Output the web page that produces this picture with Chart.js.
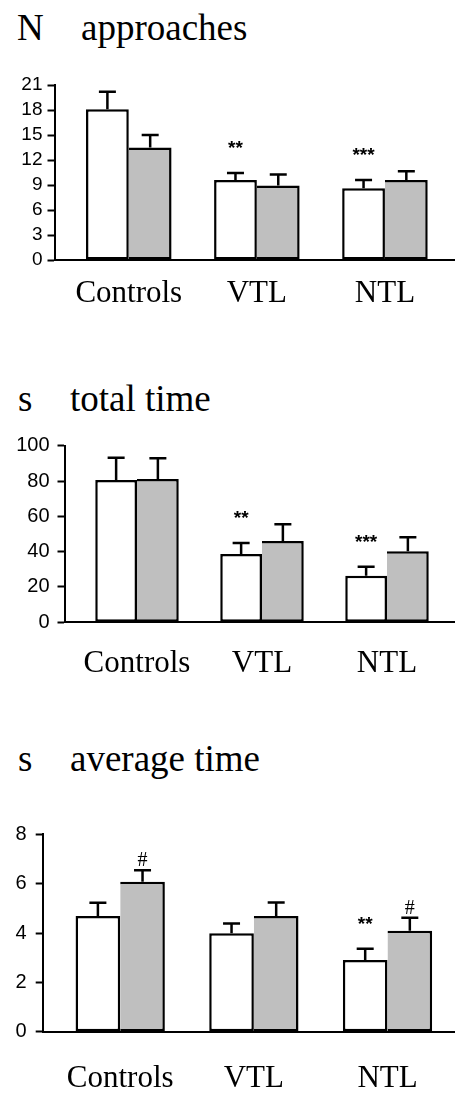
<!DOCTYPE html>
<html>
<head>
<meta charset="utf-8">
<title>approaches / total time / average time</title>
<script src="https://cdn.jsdelivr.net/npm/chart.js@4.4.0/dist/chart.umd.min.js"></script>
<style>
  html, body { margin: 0; padding: 0; background: #fff; }
  body { position: relative; width: 455px; height: 1093px; overflow: hidden; }
  canvas { position: absolute; left: 0; }
  .ttl { position: absolute; font-family: "Liberation Serif", "Times New Roman", serif; font-size: 37px; line-height: 36px; color: #000; white-space: pre; }
</style>
</head>
<body>
<div class="ttl" style="left:17px; top:10px;">N</div>
<div class="ttl" style="left:81px; top:10px;">approaches</div>
<div class="ttl" style="left:18px; top:381px;">s</div>
<div class="ttl" style="left:70px; top:381px;">total time</div>
<div class="ttl" style="left:18px; top:741px;">s</div>
<div class="ttl" style="left:70px; top:741px;">average time</div>

<canvas id="chartApproaches" width="455" height="270" style="top:60px"></canvas>
<canvas id="chartTotal" width="455" height="280" style="top:420px"></canvas>
<canvas id="chartAverage" width="455" height="293" style="top:800px"></canvas>

<script>
// categories (groups)
const categories = ['Controls', 'VTL', 'NTL'];

// N approaches
const approachesWhite = [18.1, 9.6, 8.6];
const approachesWhiteErr = [2.1, 0.85, 1.0];
const approachesGray = [13.5, 8.95, 9.6];
const approachesGrayErr = [1.5, 1.3, 1.05];
const approachesWhiteMarks = ['', '**', '***'];
const approachesGrayMarks = ['', '', ''];
const approachesTicks = [0, 3, 6, 9, 12, 15, 18, 21];

// s total time
const totalWhite = [80.6, 38.7, 26.4];
const totalWhiteErr = [12.6, 6.2, 5.1];
const totalGray = [81.1, 46.0, 40.2];
const totalGrayErr = [11.8, 9.5, 7.9];
const totalWhiteMarks = ['', '**', '***'];
const totalGrayMarks = ['', '', ''];
const totalTicks = [0, 20, 40, 60, 80, 100];

// s average time
const averageWhite = [4.69, 3.99, 2.91];
const averageWhiteErr = [0.54, 0.39, 0.45];
const averageGray = [6.08, 4.69, 4.09];
const averageGrayErr = [0.46, 0.55, 0.53];
const averageWhiteMarks = ['', '', '**'];
const averageGrayMarks = ['#', '', '#'];
const averageTicks = [0, 2, 4, 6, 8];

const SANS = '"Liberation Sans", Arial, Helvetica, sans-serif';
const SERIF = '"Liberation Serif", "Times New Roman", serif';

// error bars (up only) + significance marks
const errorBarPlugin = {
    id: 'errorBars',
    afterDatasetsDraw(chart) {
        const ctx = chart.ctx;
        const yScale = chart.scales.y;
        chart.data.datasets.forEach((ds, di) => {
            const meta = chart.getDatasetMeta(di);
            meta.data.forEach((bar, i) => {
                const top = yScale.getPixelForValue(ds.data[i].y + ds.errors[i]);
                ctx.save();
                ctx.strokeStyle = '#000';
                ctx.lineWidth = 2.5;
                ctx.beginPath();
                ctx.moveTo(bar.x, bar.y);
                ctx.lineTo(bar.x, top);
                ctx.moveTo(bar.x - 8.5, top);
                ctx.lineTo(bar.x + 8.5, top);
                ctx.stroke();

                const mark = ds.marks[i];
                if (mark) {
                    ctx.fillStyle = '#000';
                    ctx.textAlign = 'center';
                    ctx.textBaseline = 'alphabetic';
                    if (mark.indexOf('#') >= 0) {
                        ctx.font = '20px ' + SERIF;
                        ctx.fillText(mark, bar.x, top - 4);
                    } else {
                        ctx.font = 'bold 19px ' + SANS;
                        ctx.fillText(mark, bar.x, top - 19);
                    }
                }
                ctx.restore();
            });
        });
    }
};

function makePanel(id, p) {
    const toPoints = arr => arr.map((v, i) => ({ x: i, y: v }));
    return new Chart(document.getElementById(id), {
        type: 'bar',
        data: {
            datasets: [{
                data: toPoints(p.white),
                errors: p.whiteErr,
                marks: p.whiteMarks,
                backgroundColor: '#ffffff',
                borderColor: '#000000',
                borderWidth: 2.5,
                borderSkipped: false
            }, {
                data: toPoints(p.gray),
                errors: p.grayErr,
                marks: p.grayMarks,
                backgroundColor: '#bfbfbf',
                borderColor: '#000000',
                borderWidth: { top: 2.5, right: 2.5, bottom: 2.5, left: 0 },
                borderSkipped: false
            }]
        },
        options: {
            responsive: false,
            animation: false,
            events: [],
            barPercentage: 1,
            categoryPercentage: 0.668,
            layout: { padding: { top: p.padTop, left: 0, right: 0, bottom: 0 } },
            plugins: {
                legend: { display: false },
                tooltip: { enabled: false }
            },
            scales: {
                x: {
                    type: 'linear',
                    offset: false,
                    bounds: 'data',
                    min: -0.58,
                    max: p.xMax,
                    afterBuildTicks: scale => { scale.ticks = categories.map((c, i) => ({ value: i })); },
                    afterFit: scale => { scale.height = p.xHeight; },
                    grid: { display: false, drawTicks: false, offset: false },
                    border: { display: true, color: '#000', width: 2 },
                    ticks: {
                        autoSkip: false,
                        maxRotation: 0,
                        padding: p.xPad,
                        color: '#000',
                        font: { family: SERIF, size: 31 },
                        callback: v => categories[v]
                    }
                },
                y: {
                    min: p.ticks[0],
                    max: p.ticks[p.ticks.length - 1],
                    afterBuildTicks: scale => { scale.ticks = p.ticks.map(v => ({ value: v })); },
                    afterFit: scale => { scale.width = p.yWidth; },
                    grid: {
                        display: true,
                        drawOnChartArea: false,
                        drawTicks: true,
                        tickLength: 7,
                        tickWidth: 2,
                        tickColor: '#000'
                    },
                    border: { display: true, color: '#000', width: 2 },
                    ticks: {
                        autoSkip: false,
                        padding: p.yPad,
                        color: '#000',
                        font: { family: SANS, size: p.tickSize }
                    }
                }
            }
        },
        plugins: [errorBarPlugin]
    });
}

makePanel('chartApproaches', {
    white: approachesWhite, whiteErr: approachesWhiteErr, whiteMarks: approachesWhiteMarks,
    gray: approachesGray, grayErr: approachesGrayErr, grayMarks: approachesGrayMarks,
    ticks: approachesTicks,
    padTop: 25, xHeight: 70, yWidth: 54.5, xMax: 2.547, xPad: 15, yPad: 5, tickSize: 19
});

makePanel('chartTotal', {
    white: totalWhite, whiteErr: totalWhiteErr, whiteMarks: totalWhiteMarks,
    gray: totalGray, grayErr: totalGrayErr, grayMarks: totalGrayMarks,
    ticks: totalTicks,
    padTop: 25.7, xHeight: 77.7, yWidth: 64.5, xMax: 2.544, xPad: 22.5, yPad: 8, tickSize: 20
});

makePanel('chartAverage', {
    white: averageWhite, whiteErr: averageWhiteErr, whiteMarks: averageWhiteMarks,
    gray: averageGray, grayErr: averageGrayErr, grayMarks: averageGrayMarks,
    ticks: averageTicks,
    padTop: 34.3, xHeight: 61.3, yWidth: 42.7, xMax: 2.505, xPad: 29, yPad: 9, tickSize: 20
});
</script>
</body>
</html>
